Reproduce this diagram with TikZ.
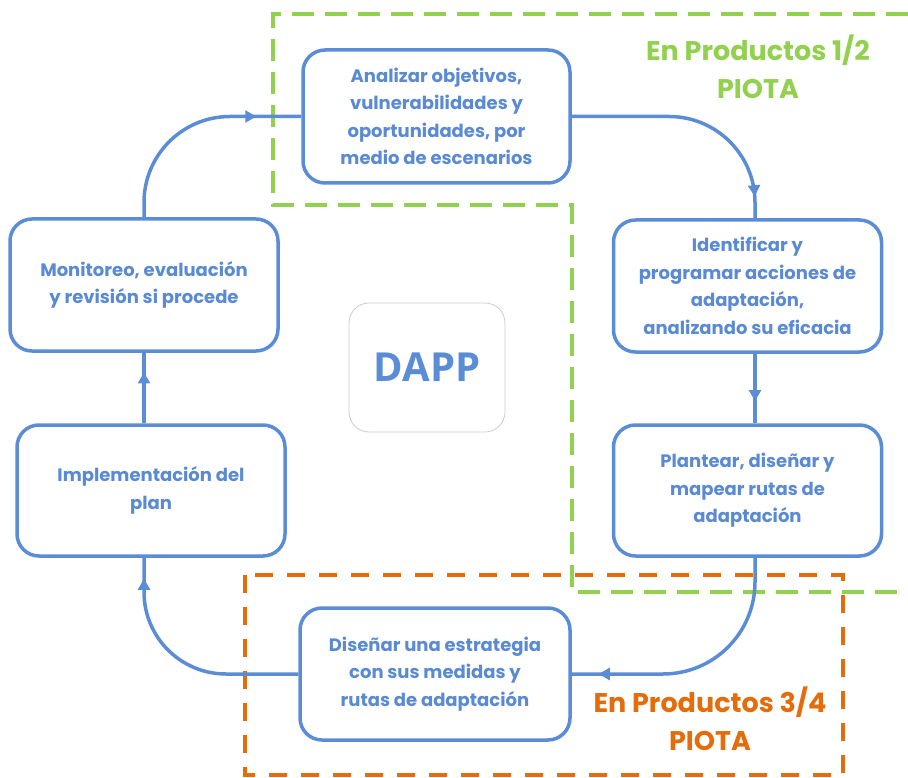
\documentclass[tikz,border=0pt]{standalone}
\usepackage{fontspec}
\setmainfont{Poppins}
\newfontfamily\dappfont{Open Sans}
\usetikzlibrary{arrows.meta,decorations.markings,calc}
\definecolor{cblue}{HTML}{5A8DD6}
\definecolor{ctext}{HTML}{5A8AD4}
\definecolor{cgreen}{HTML}{92D050}
\definecolor{corange}{HTML}{E46C0A}
\begin{document}
\begin{tikzpicture}[x=1pt,y=-1pt,
  stage/.style={draw=cblue, line width=3.5pt, rounded corners=22pt, fill=white, text=ctext,
    font=\bfseries\fontsize{18}{27.5}\selectfont, align=center, inner sep=0pt,
    minimum width=268pt, minimum height=132pt},
  conn/.style={draw=cblue, line width=3.5pt},
  marr/.style={postaction={decorate}, decoration={markings,
    mark=at position #1 with {\arrow{Triangle[length=11pt,width=12pt]}}}},
  region/.style={line width=4pt},
  tag/.style={font=\bfseries\fontsize{27}{38}\selectfont, align=center},
]
\useasboundingbox (0,0) rectangle (908,778);
% regions
\draw[region, corange, dash pattern=on 18pt off 14pt] (245,575) rectangle (843,775);
\draw[region, cgreen, dash pattern=on 22pt off 11pt] (908,14) -- (273,14) -- (273,205) -- (572,205) -- (572,592) -- (908,592);
% nodes
\node[stage, minimum width=267pt, minimum height=133pt] (top) at (436.5,116.5)
  {Analizar objetivos,\\ vulnerabilidades y\\ oportunidades, por\\ medio de escenarios};
\node[stage] (r1) at (747.5,286)
  {Identificar y\\ programar acciones de\\ adaptación,\\ analizando su eficacia};
\node[stage, minimum height=131pt] (r2) at (747.5,490.5)
  {Plantear, diseñar y\\ mapear rutas de\\ adaptación};
\node[stage, minimum width=270pt] (bot) at (435,674)
  {Diseñar una estrategia\\ con sus medidas y\\ rutas de adaptación};
\node[stage, minimum height=131pt] (lb) at (151,490.5)
  {Implementación del\\ plan};
\node[stage] (lt) at (144,285)
  {Monitoreo, evaluación\\ y revisión si procede};
\node[draw=black!20, line width=0.8pt, rounded corners=20pt, minimum width=156pt,
  minimum height=129pt, text=cblue, font=\dappfont\bfseries\fontsize{40}{40}\selectfont]
  (dapp) at (427,367.5) {DAPP};
% labels
\node[tag, text=cgreen] (gtag) at (758,67) {En Productos 1/2\\PIOTA};
\node[tag, text=corange] (otag) at (710,719) {En Productos 3/4\\PIOTA};
% connectors
\draw[conn, rounded corners=86pt, marr=-45pt] (lt.north) |- (top.west);
\draw[conn, rounded corners=86pt, marr=-22pt] (top.east) -| ([xshift=7.5pt]r1.north);
\draw[conn, marr=0.68] ([xshift=7.5pt]r1.south) -- ([xshift=7.5pt]r2.north);
\draw[conn, rounded corners=92pt, marr=-27pt] ([xshift=7.5pt]r2.south) |- (bot.east);
\draw[conn, rounded corners=82pt, marr=-21pt] (bot.west) -| ([xshift=-7pt]lb.south);
\draw[conn, marr=0.72] ([xshift=-7pt]lb.north) -- (lt.south);
\end{tikzpicture}
\end{document}
